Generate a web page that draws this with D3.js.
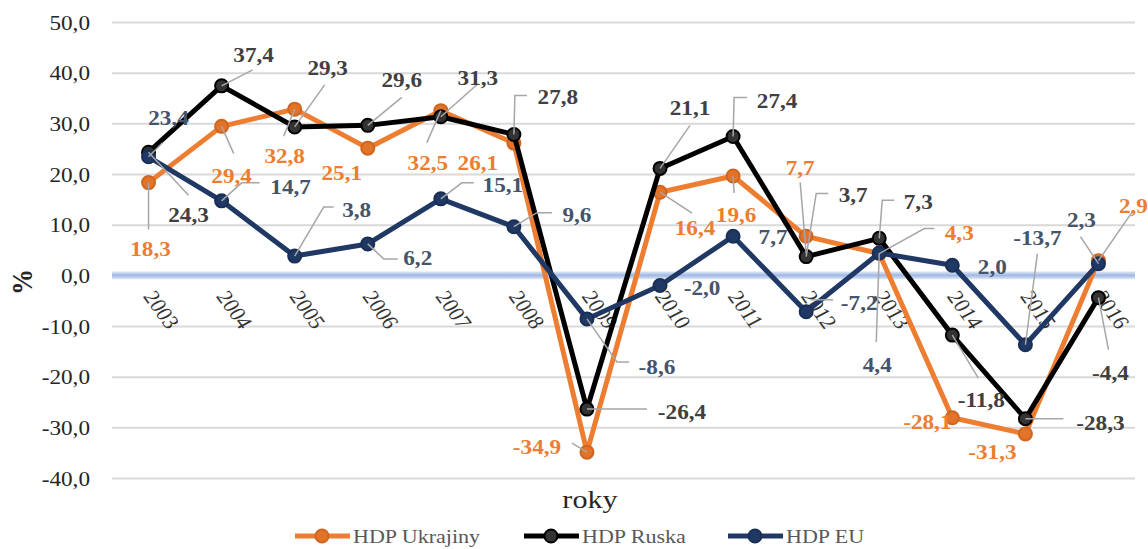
<!DOCTYPE html>
<html><head><meta charset="utf-8">
<script src="https://cdn.jsdelivr.net/npm/d3@7"></script>
<style>html,body{margin:0;padding:0;background:#fff;}svg{display:block;}</style>
</head><body>
<svg id="chart" width="1148" height="549"></svg>
<script>
// ---------- data ----------
const years = ["2003","2004","2005","2006","2007","2008","2009","2010","2011","2012","2013","2014","2015","2016"];
const hdpUkrajiny = [18.3, 29.4, 32.8, 25.1, 32.5, 26.1, -34.9, 16.4, 19.6, 7.7, 4.3, -28.1, -31.3, 2.9];
const hdpRuska    = [24.3, 37.4, 29.3, 29.6, 31.3, 27.8, -26.4, 21.1, 27.4, 3.7, 7.3, -11.8, -28.3, -4.4];
const hdpEU       = [23.4, 14.7, 3.8, 6.2, 15.1, 9.6, -8.6, -2.0, 7.7, -7.2, 4.4, 2.0, -13.7, 2.3];
const yTicks = [-40,-30,-20,-10,0,10,20,30,40,50];
const seriesNames = ["HDP Ukrajiny","HDP Ruska","HDP EU"];

// ---------- label placement (layout only: offsets from each point, px) ----------
const labUA = [[2,66],[10,50],[-10,47],[-26,25],[-13,52],[-36,20],[-50,-5],[35,36],[3,39],[-6,-68],[80,-21],[-25,4],[-33,18],[35,-55]];
const leadUA = [[[0,0],[0,47]],[[0,0],[12,27]],[[0,0],[-11,27]],null,[[0,0],[-14,32]],null,[[0,0],[-15,-9]],[[0,0],[32,21]],[[0,0],[1,17]],[[0,17],[-6,-54]],[[0,0],[45,-25],[55,-25]],null,null,[[0,0],[34,-49]]];
const labRU = [[40,63],[32,-31],[33,-59],[34,-45],[37,-39],[44,-37],[95,3],[30,-60],[44,-36],[47,-62],[39,-36],[29,65],[75,4],[12,75]];
const leadRU = [[[0,0],[40,43]],[[0,0],[31,-16]],[[0,0],[30,-42]],[[0,0],[34,-28]],[[0,0],[36,-32]],[[0,0],[1,-39],[13,-39]],[[0,0],[60,0]],[[0,0],[30,-43]],[[0,0],[1,-39],[14,-39]],[[0,0],[10,-63],[22,-63]],[[0,0],[3,-38],[15,-38]],[[0,0],[26,43]],[[0,0],[38,0]],[[0,0],[10,52]]];
const labEU = [[20,-39],[69,-14],[62,-46],[50,14],[62,-14],[63,-12],[70,48],[42,3],[40,1],[53,-9],[-2,112],[40,2],[12,-107],[-17,-44]];
const leadEU = [[[0,0],[14,-14]],[[0,0],[20,-18],[38,-18]],[[0,0],[29,-49],[39,-49]],[[0,0],[16,15],[30,15]],[[0,0],[21,-16],[33,-16]],[[0,0],[23,-14],[38,-14]],[[0,0],[30,43],[42,43]],null,null,[[4,-12],[27,-12]],[[0,0],[-3,89]],null,[[0,0],[12,-91]],[[0,0],[-18,-27]]];

// ---------- setup ----------
const FONT = "'Liberation Serif','Times New Roman',serif";
const SX = 1.16; // horizontal stretch of the reference
const svg = d3.select("#chart");
const L = 112, R = 1135, T = 22, B = 478;
const x = d3.scaleBand().domain(years).range([L, R]);
const cx = d => x(d) + x.bandwidth() / 2;
const y = d3.scaleLinear().domain([-40, 50]).range([B, T]);
const fmt = v => d3.format(".1f")(v).replace(".", ",").replace("−", "-");

// gradient for zero line
const defs = svg.append("defs");
const gr = defs.append("linearGradient").attr("id","zg").attr("x1",0).attr("x2",0).attr("y1",0).attr("y2",1);
gr.append("stop").attr("offset","0%").attr("stop-color","#e3eaf7");
gr.append("stop").attr("offset","50%").attr("stop-color","#9fb8e2");
gr.append("stop").attr("offset","100%").attr("stop-color","#e3eaf7");

// gridlines + y labels
const yAxis = d3.axisLeft(y).tickValues(yTicks).tickSize(-(R - L)).tickFormat(fmt);
const gy = svg.append("g").attr("transform", `translate(${L},0)`).call(yAxis);
gy.select(".domain").remove();
gy.selectAll(".tick line").attr("stroke", d => d === 0 ? "none" : "#d9d9d9").attr("stroke-width", 2);
gy.selectAll(".tick text")
  .attr("x", null).attr("dy", null)
  .attr("transform", `translate(-22,7) scale(${SX},1)`)
  .attr("font-family", FONT).attr("font-size", 20).attr("fill", "#262626").attr("text-anchor","end");

// zero line
svg.append("rect").attr("x", L).attr("width", R - L).attr("y", y(0) - 4).attr("height", 8).attr("fill", "url(#zg)");

// x axis labels at zero line
const xAxis = d3.axisBottom(x).tickSize(0);
const gx = svg.append("g").attr("transform", `translate(0,${y(0)})`).call(xAxis);
gx.select(".domain").remove();
gx.selectAll(".tick text")
  .attr("y", null).attr("dy", null)
  .attr("text-anchor", "start")
  .attr("transform", `translate(-6,21) scale(${SX},1) rotate(58)`)
  .attr("font-family", FONT).attr("font-size", 20).attr("fill", "#333");

// series
const series = [
  {name: seriesNames[0], vals: hdpUkrajiny, color: "#ed7d31", mfill: "#e2732a", mstroke: "#d0651f", text: "#ed7d31", lab: labUA, lead: leadUA},
  {name: seriesNames[1], vals: hdpRuska, color: "#000000", mfill: "#333333", mstroke: "#000000", text: "#404040", lab: labRU, lead: leadRU},
  {name: seriesNames[2], vals: hdpEU, color: "#203864", mfill: "#203864", mstroke: "#1a2f55", text: "#44546a", lab: labEU, lead: leadEU}
];

const line = d3.line().x((v, i) => cx(years[i])).y(v => y(v));
const gLines = svg.append("g");
series.forEach(s => {
  const g = gLines.append("g");
  g.append("path").attr("d", line(s.vals)).attr("fill", "none")
    .attr("stroke", s.color).attr("stroke-width", 5).attr("stroke-linejoin", "round");
  g.selectAll("circle").data(s.vals).join("circle")
    .attr("cx", (v, i) => cx(years[i])).attr("cy", v => y(v)).attr("r", 6.5)
    .attr("fill", s.mfill).attr("stroke", s.mstroke).attr("stroke-width", 2);
});

// leader lines + labels
const gLab = svg.append("g");
series.forEach(s => {
  s.vals.forEach((v, i) => {
    const px = cx(years[i]), py = y(v);
    const ld = s.lead[i];
    if (ld) {
      gLab.append("polyline")
        .attr("points", ld.map(p => `${px + p[0]},${py + p[1]}`).join(" "))
        .attr("fill", "none").attr("stroke", "#a6a6a6").attr("stroke-width", 1.5);
    }
  });
});
series.forEach(s => {
  s.vals.forEach((v, i) => {
    const px = cx(years[i]), py = y(v);
    const o = s.lab[i];
    gLab.append("text")
      .attr("transform", `translate(${px + o[0]},${py + o[1] + 7}) scale(${SX},1)`)
      .attr("text-anchor", "middle").attr("font-family", FONT).attr("font-size", 20)
      .attr("font-weight", "bold").attr("fill", s.text).text(fmt(v));
  });
});

// axis titles
svg.append("text").attr("transform", `translate(590,508) scale(${SX},1)`)
  .attr("text-anchor", "middle").attr("font-family", FONT).attr("font-size", 26).attr("fill", "#262626").text("roky");
svg.append("text").attr("transform", `translate(32,282) scale(${SX},1) rotate(-90)`)
  .attr("text-anchor", "middle").attr("font-family", FONT).attr("font-size", 26).attr("font-weight","bold").attr("fill", "#262626").text("%");

// legend
const legX = [295, 524, 728];
const gLeg = svg.append("g");
series.forEach((s, k) => {
  const lx = legX[k], ly = 536;
  gLeg.append("line").attr("x1", lx).attr("x2", lx + 55).attr("y1", ly).attr("y2", ly)
    .attr("stroke", s.color).attr("stroke-width", 5);
  gLeg.append("circle").attr("cx", lx + 27).attr("cy", ly).attr("r", 6.5)
    .attr("fill", s.mfill).attr("stroke", s.mstroke).attr("stroke-width", 2);
  gLeg.append("text").attr("transform", `translate(${lx + 58},${ly + 7}) scale(${SX},1)`)
    .attr("font-family", FONT).attr("font-size", 19).attr("fill", "#595959").text(s.name);
});
</script>
</body></html>
